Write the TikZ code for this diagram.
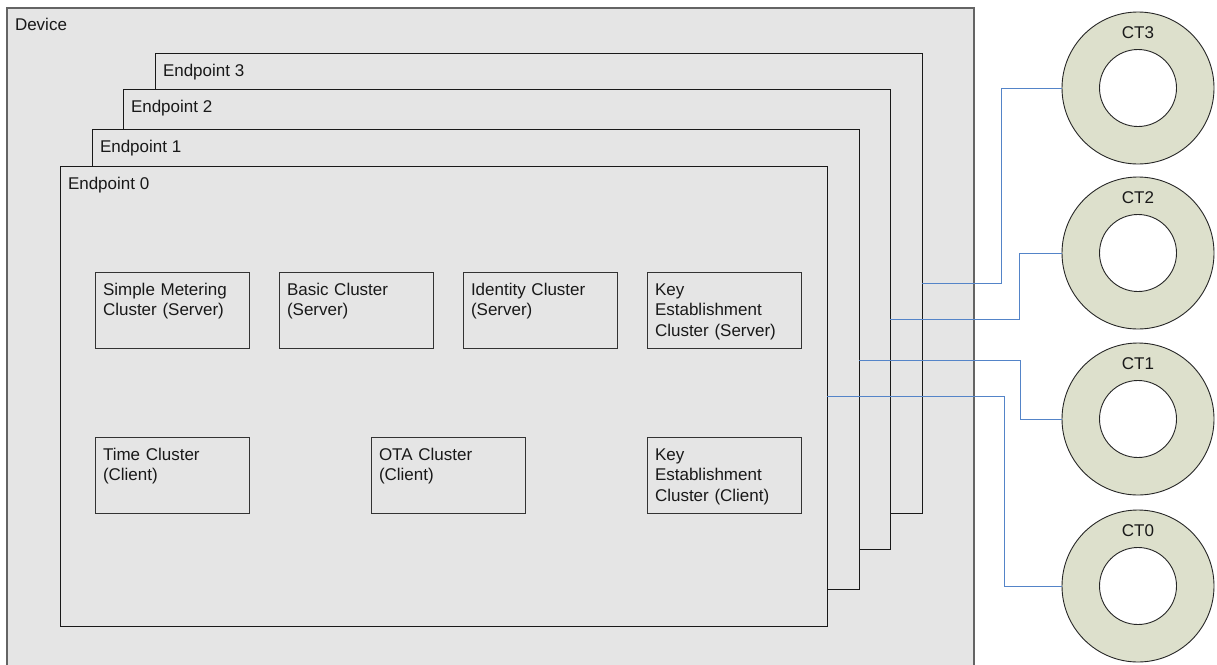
\documentclass[tikz,border=0pt]{standalone}
\usepackage{fontspec}
\setmainfont{Liberation Sans}
\usetikzlibrary{calc}
\definecolor{boxfill}{RGB}{229,229,229}
\definecolor{ringfill}{RGB}{221,224,204}
\definecolor{devline}{RGB}{100,100,100}
\definecolor{connblue}{RGB}{84,132,200}
\begin{document}
\begin{tikzpicture}[x=1pt,y=-1pt,
  every node/.style={outer sep=0pt},
  devbox/.style={draw=devline, fill=boxfill, line width=1.4pt, anchor=north west, inner sep=0pt},
  epbox/.style={draw=black!90, fill=boxfill, line width=1pt, anchor=north west, inner sep=0pt, minimum width=767, minimum height=460},
  clbox/.style={draw=black!80, fill=boxfill, line width=0.9pt, anchor=north west, inner sep=0pt, minimum width=154, minimum height=76},
  lbl/.style={anchor=base west, inner sep=0pt, font=\fontsize{17}{20.5}\selectfont, text=black!90},
  cltxt/.style={lbl, text width=150, align=left},
  ring/.style={circle, draw=black!85, fill=ringfill, line width=0.9pt, minimum size=152, inner sep=0pt},
  hole/.style={circle, draw=black!85, fill=white, line width=0.9pt, minimum size=77, inner sep=0pt},
  conn/.style={draw=connblue, line width=1pt}]
\useasboundingbox (0,0) rectangle (1217,664);
\clip (0,0) rectangle (1217,664);

% device
\node[devbox, minimum width=967, minimum height=700] (dev) at (7,8) {};
\node[lbl] (devlbl) at ($(dev.north west)+(8,22)$) {Device};

% endpoints
\node[epbox] (ep3) at (155,53) {};
\node[lbl] (ep3lbl) at ($(ep3.north west)+(8,23)$) {Endpoint 3};
\node[epbox] (ep2) at (123,89) {};
\node[lbl] (ep2lbl) at ($(ep2.north west)+(8,23)$) {Endpoint 2};
\node[epbox] (ep1) at (92,129) {};
\node[lbl] (ep1lbl) at ($(ep1.north west)+(8,23)$) {Endpoint 1};
\node[epbox] (ep0) at (60,166) {};
\node[lbl] (ep0lbl) at ($(ep0.north west)+(8,23)$) {Endpoint 0};

% clusters
\node[clbox] (sm) at (95,272) {};
\node[cltxt] (smt) at ($(sm.north west)+(8,23)$) {Simple Metering\\Cluster (Server)};
\node[clbox] (basic) at (279,272) {};
\node[cltxt] (basict) at ($(basic.north west)+(8,23)$) {Basic Cluster\\(Server)};
\node[clbox] (ident) at (463,272) {};
\node[cltxt] (identt) at ($(ident.north west)+(8,23)$) {Identity Cluster\\(Server)};
\node[clbox] (kes) at (647,272) {};
\node[cltxt] (kest) at ($(kes.north west)+(8,23)$) {Key\\Establishment\\Cluster (Server)};
\node[clbox] (time) at (95,437) {};
\node[cltxt] (timet) at ($(time.north west)+(8,23)$) {Time Cluster\\(Client)};
\node[clbox] (ota) at (371,437) {};
\node[cltxt] (otat) at ($(ota.north west)+(8,23)$) {OTA Cluster\\(Client)};
\node[clbox] (kec) at (647,437) {};
\node[cltxt] (kect) at ($(kec.north west)+(8,23)$) {Key\\Establishment\\Cluster (Client)};

% current transformers
\foreach \n/\y in {3/88, 2/253, 1/419, 0/586} {
  \node[ring] (ct\n) at (1138,\y) {};
  \node[hole] (cth\n) at (ct\n.center) {};
  \node[lbl, anchor=base] (ctl\n) at ($(ct\n.center)+(0,-50)$) {CT\n};
}

% connectors
\draw[conn] (ep3.east |- 0,283) -- (1001,283) |- (ct3.west);
\draw[conn] (ep2.east |- 0,319) -- (1019,319) |- (ct2.west);
\draw[conn] (ep1.east |- 0,360) -- (1020,360) |- (ct1.west);
\draw[conn] (ep0.east |- 0,396) -- (1004,396) |- (ct0.west);
\end{tikzpicture}
\end{document}
